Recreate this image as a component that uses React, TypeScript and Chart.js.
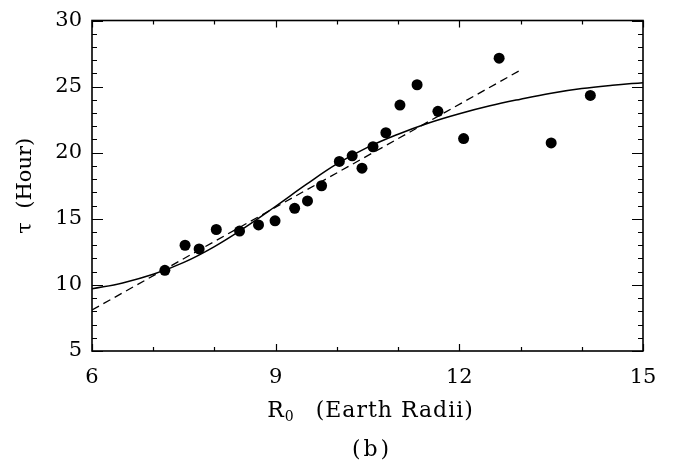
import React, { useEffect, useRef } from "react";
import { Chart, registerables } from "chart.js";

Chart.register(...registerables);

// Observed points: R0 (Earth radii) vs tau (hours)
const r0Values = [7.19, 7.52, 7.75, 8.03, 8.41, 8.72, 8.99, 9.31, 9.52, 9.75, 10.04, 10.25, 10.41, 10.59, 10.8, 11.03, 11.31, 11.65, 12.07, 12.65, 13.5, 14.14];
const tauValues = [11.1, 13.0, 12.72, 14.19, 14.07, 14.54, 14.85, 15.79, 16.35, 17.5, 19.34, 19.76, 18.83, 20.45, 21.51, 23.6, 25.14, 23.13, 21.07, 27.15, 20.74, 24.33];

// Solid fitted curve
const curveX = [6, 6.5, 7, 7.5, 8, 8.5, 9, 9.5, 10, 10.5, 11, 11.5, 12, 12.5, 13, 13.5, 14, 14.5, 15];
const curveY = [9.7, 10.15, 10.8, 11.7, 12.9, 14.35, 15.95, 17.6, 19.15, 20.4, 21.4, 22.25, 22.95, 23.55, 24.05, 24.5, 24.85, 25.1, 25.3];

// Dashed linear fit
const lineX = [6, 13.0];
const lineY = [8.1, 26.25];

// Axis tick labels
const xMajorTicks = [6, 9, 12, 15];
const yMajorTicks = [5, 10, 15, 20, 25, 30];

const FONT = "'DejaVu Serif', 'Liberation Serif', serif";

const framePlugin = {
  id: "frameTicks",
  afterDraw(chart: any) {
    const { ctx, chartArea, scales } = chart;
    const { left, right, top, bottom } = chartArea;
    const xs = scales.x;
    const ys = scales.y;
    ctx.save();
    ctx.strokeStyle = "#000";
    ctx.lineWidth = 1.6;
    ctx.strokeRect(left, top, right - left, bottom - top);
    ctx.lineWidth = 1.2;
    ctx.beginPath();
    xs.ticks.forEach((t: any) => {
      const px = Math.round(xs.getPixelForValue(t.value)) + 0.5;
      const len = xMajorTicks.includes(t.value) ? 7 : 4;
      ctx.moveTo(px, bottom);
      ctx.lineTo(px, bottom - len);
      ctx.moveTo(px, top);
      ctx.lineTo(px, top + len);
    });
    ys.ticks.forEach((t: any) => {
      const py = Math.round(ys.getPixelForValue(t.value)) + 0.5;
      const len = yMajorTicks.includes(t.value) ? 11 : 5;
      ctx.moveTo(left, py);
      ctx.lineTo(left + len, py);
      ctx.moveTo(right, py);
      ctx.lineTo(right - len, py);
    });
    ctx.stroke();

    // x-axis title with subscript
    ctx.fillStyle = "#000";
    ctx.textBaseline = "alphabetic";
    ctx.textAlign = "left";
    const cx = (left + right) / 2 + 3;
    const base = 417;
    const mainFont = `22px ${FONT}`;
    const subFont = `14px ${FONT}`;
    ctx.font = mainFont;
    const wR = ctx.measureText("R").width;
    ctx.font = subFont;
    const wSub = ctx.measureText("0").width;
    ctx.font = mainFont;
    (ctx as any).letterSpacing = "1px";
    const rest = "(Earth Radii)";
    const wRest = ctx.measureText(rest).width;
    const gap = 22;
    const total = wR + 1 + wSub + gap + wRest;
    let x0 = cx - total / 2;
    (ctx as any).letterSpacing = "0px";
    ctx.fillText("R", x0, base);
    x0 += wR + 1;
    ctx.font = subFont;
    ctx.fillText("0", x0, base + 4);
    x0 += wSub + gap;
    ctx.font = mainFont;
    (ctx as any).letterSpacing = "1px";
    ctx.fillText(rest, x0, base);

    // panel label
    (ctx as any).letterSpacing = "3px";
    ctx.textAlign = "center";
    ctx.fillText("(b)", 372, 456);
    (ctx as any).letterSpacing = "0px";
    ctx.restore();
  },
};

export default function App() {
  const canvasRef = useRef<HTMLCanvasElement | null>(null);

  useEffect(() => {
    if (!canvasRef.current) return;
    const points = r0Values.map((x, i) => ({ x, y: tauValues[i] }));
    const curve = curveX.map((x, i) => ({ x, y: curveY[i] }));
    const line = lineX.map((x, i) => ({ x, y: lineY[i] }));

    const chart = new Chart(canvasRef.current, {
      type: "scatter",
      data: {
        datasets: [
          {
            label: "Fit",
            data: curve,
            showLine: true,
            borderColor: "#000",
            borderWidth: 1.5,
            pointRadius: 0,
            tension: 0.4,
          } as any,
          {
            label: "Linear",
            data: line,
            showLine: true,
            borderColor: "#000",
            borderWidth: 1.3,
            borderDash: [8, 5],
            pointRadius: 0,
          } as any,
          {
            label: "Events",
            data: points,
            backgroundColor: "#000",
            borderColor: "#000",
            borderWidth: 0,
            pointRadius: 5.5,
            pointHoverRadius: 5.5,
          },
        ],
      },
      options: {
        animation: false,
        responsive: false,
        layout: { padding: { left: 0, top: 12, right: 37, bottom: 0 } },
        plugins: {
          legend: { display: false },
          tooltip: { enabled: false },
        },
        scales: {
          x: {
            type: "linear",
            min: 6,
            max: 15,
            grid: { display: false, drawTicks: false },
            border: { display: false },
            ticks: {
              stepSize: 1,
              autoSkip: false,
              maxRotation: 0,
              padding: 14,
              color: "#000",
              font: { family: FONT, size: 21 },
              callback: (v: any) => (xMajorTicks.includes(Number(v)) ? String(v) : ""),
            },
            afterFit: (scale: any) => {
              scale.height = 115;
            },
          },
          y: {
            type: "linear",
            min: 5,
            max: 30,
            grid: { display: false, drawTicks: false },
            border: { display: false },
            ticks: {
              stepSize: 1,
              autoSkip: false,
              padding: 10,
              color: "#000",
              font: { family: FONT, size: 21, lineHeight: 1 },
              callback: (v: any) => (yMajorTicks.includes(Number(v)) ? String(v) : ""),
            },
            title: {
              display: true,
              text: "τ  (Hour)",
              color: "#000",
              font: { family: FONT, size: 21 },
              padding: { top: 13, bottom: 0 },
            },
            afterFit: (scale: any) => {
              scale.width = 92;
            },
          },
        },
      },
      plugins: [framePlugin],
    });
    return () => chart.destroy();
  }, []);

  return (
    <div style={{ position: "fixed", left: 0, top: 0, width: 680, height: 466, background: "#fff" }}>
      <canvas ref={canvasRef} width={680} height={466} style={{ display: "block" }} />
    </div>
  );
}
